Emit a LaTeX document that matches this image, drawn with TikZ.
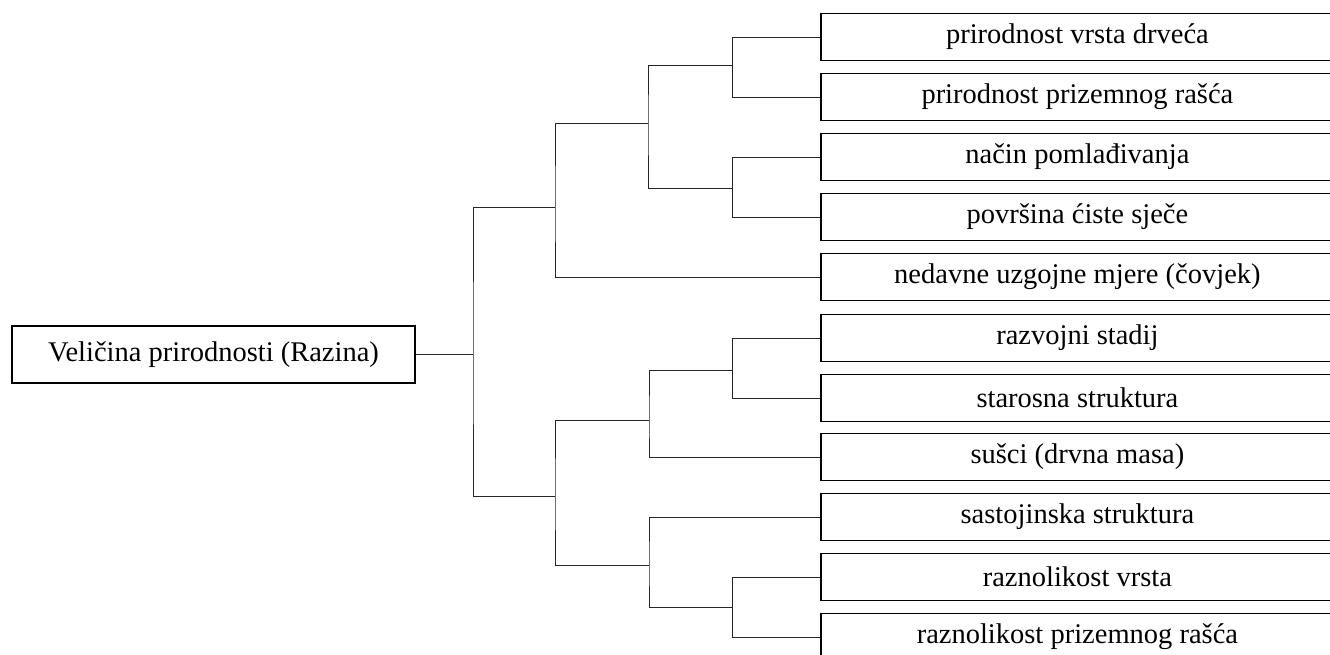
\documentclass[tikz,border=0pt]{standalone}
\usepackage{fontspec}
\setmainfont{Liberation Serif}
\begin{document}
\begin{tikzpicture}[x=1pt,y=-1pt,
  leaf/.style={draw=black, line width=1.8pt, anchor=west, minimum width=513pt, minimum height=47pt, inner sep=0pt, font=\fontsize{28.5}{32}\selectfont},
  rootbox/.style={draw=black, line width=1.8pt, minimum width=403pt, minimum height=57pt, inner sep=0pt, font=\fontsize{28.5}{32}\selectfont},
  conn/.style={draw=black!85, line width=1pt}]
\useasboundingbox (0,0) rectangle (1330,654);
\node[rootbox] (root) at (213.5,354.5) {Veličina prirodnosti (Razina)};
\node[leaf] (l1) at (820,37) {prirodnost vrsta drveća};
\node[leaf] (l2) at (820,97) {prirodnost prizemnog rašća};
\node[leaf] (l3) at (820,157) {način pomlađivanja};
\node[leaf] (l4) at (820,217) {površina ćiste sječe};
\node[leaf] (l5) at (820,277) {nedavne uzgojne mjere (čovjek)};
\node[leaf] (l6) at (820,338) {razvojni stadij};
\node[leaf] (l7) at (820,398) {starosna struktura};
\node[leaf] (l8) at (820,457) {sušci (drvna masa)};
\node[leaf] (l9) at (820,517) {sastojinska struktura};
\node[leaf] (l10) at (820,577) {raznolikost vrsta};
\node[leaf] (l11) at (820,637) {raznolikost prizemnog rašća};
\coordinate (j12) at (732,65);
\coordinate (j34) at (732,188);
\coordinate (j1234) at (648,123);
\coordinate (jA) at (555,207);
\coordinate (jR) at (473,354.5);
\coordinate (j67) at (732,370);
\coordinate (j678) at (649,420);
\coordinate (j1011) at (732,607);
\coordinate (j91011) at (649,565);
\coordinate (jB) at (555,496);
\draw[conn] (l1.west) -| (j12) |- (l2.west);
\draw[conn] (l3.west) -| (j34) |- (l4.west);
\draw[conn] (j12) -| (j1234) |- (j34);
\draw[conn] (j1234) -| (jA) |- (l5.west);
\draw[conn] (l6.west) -| (j67) |- (l7.west);
\draw[conn] (j67) -| (j678) |- (l8.west);
\draw[conn] (l10.west) -| (j1011) |- (l11.west);
\draw[conn] (l9.west) -| (j91011) |- (j1011);
\draw[conn] (j678) -| (jB) |- (j91011);
\draw[conn] (jA) -| (jR) |- (jB);
\draw[conn] (root.east) -- (jR);
\end{tikzpicture}
\end{document}
